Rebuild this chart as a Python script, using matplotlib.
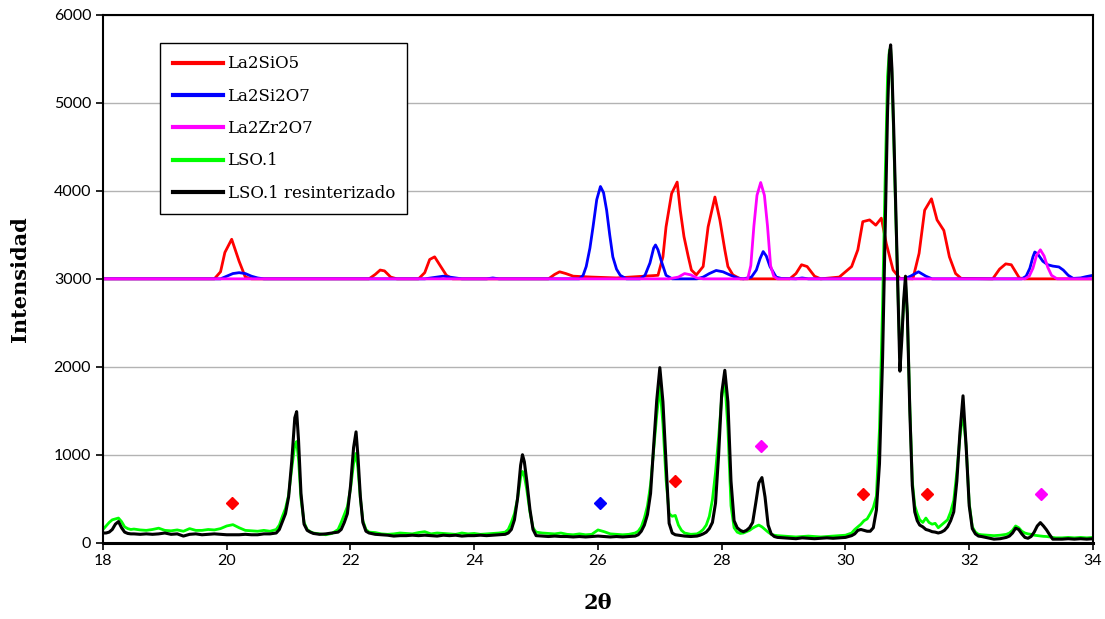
import matplotlib
matplotlib.use("Agg")
import matplotlib.pyplot as plt

# measured scans (shared 2-theta grid)
theta = [
    18.00, 18.05, 18.10, 18.15, 18.20, 18.25, 18.30, 18.35, 18.40, 18.45, 18.50,
    18.6, 18.7, 18.8, 18.9, 19.0, 19.1, 19.2, 19.3, 19.4, 19.5, 19.6, 19.7, 19.8,
    19.9, 20.0, 20.1, 20.2, 20.3, 20.4, 20.5, 20.6, 20.7, 20.8,
    20.85, 20.90, 20.95, 21.00, 21.05, 21.10, 21.13, 21.16, 21.20, 21.25, 21.30, 21.35,
    21.4, 21.5, 21.6, 21.7, 21.8,
    21.85, 21.90, 21.95, 22.00, 22.05, 22.09, 22.12, 22.16, 22.20, 22.25, 22.30,
    22.4, 22.5, 22.6, 22.7, 22.8, 22.9, 23.0, 23.1, 23.2, 23.3, 23.4, 23.5, 23.6,
    23.7, 23.8, 23.9, 24.0, 24.1, 24.2, 24.3, 24.4, 24.5,
    24.55, 24.60, 24.65, 24.70, 24.75, 24.78, 24.81, 24.85, 24.90, 24.95, 25.00,
    25.1, 25.2, 25.3, 25.4, 25.5, 25.6, 25.7, 25.8, 25.9, 26.0, 26.1, 26.2, 26.3,
    26.4, 26.5, 26.6,
    26.65, 26.70, 26.75, 26.80, 26.85, 26.90, 26.95, 27.00, 27.05, 27.10, 27.15,
    27.20, 27.25, 27.30, 27.35, 27.40,
    27.5, 27.6, 27.65,
    27.70, 27.75, 27.80, 27.85, 27.90, 27.95, 28.00, 28.05, 28.10, 28.15, 28.20,
    28.25, 28.30, 28.35, 28.40, 28.45, 28.50, 28.55, 28.60, 28.65, 28.70, 28.75,
    28.80, 28.85,
    28.9, 29.0, 29.1, 29.2, 29.3, 29.4, 29.5, 29.6, 29.7, 29.8, 29.9, 30.0,
    30.10, 30.15, 30.20, 30.25, 30.30, 30.35, 30.40, 30.45, 30.50, 30.55, 30.60,
    30.64, 30.68, 30.71, 30.73, 30.75, 30.78, 30.81, 30.85, 30.88, 30.91, 30.94,
    30.97, 31.00, 31.04, 31.08, 31.12, 31.16, 31.20, 31.25, 31.30, 31.35, 31.40,
    31.45, 31.50, 31.55, 31.60, 31.65, 31.70, 31.75, 31.80, 31.85, 31.90, 31.95,
    32.00, 32.05, 32.10, 32.15,
    32.2, 32.3, 32.4, 32.5, 32.6, 32.65, 32.70, 32.75, 32.80, 32.85, 32.90, 32.95,
    33.00, 33.05, 33.10, 33.15, 33.20, 33.25, 33.30, 33.35, 33.4,
    33.5, 33.6, 33.7, 33.8, 33.9, 34.0,
]

lso1 = [
    150, 190, 230, 260, 270, 280, 240, 180, 160, 150, 155,
    145, 140, 150, 165, 140, 135, 145, 130, 160, 140, 140, 150, 145,
    160, 190, 205, 170, 140, 135, 130, 140, 130, 150,
    200, 300, 390, 540, 840, 1110, 1150, 950, 500, 230, 150, 125,
    110, 100, 90, 105, 150,
    230, 320, 410, 610, 900, 1015, 850, 500, 250, 150, 120,
    115, 100, 95, 100, 110, 105, 100, 115, 125, 100, 110, 105, 100,
    95, 110, 100, 105, 95, 100, 105, 110, 120,
    150, 230, 330, 500, 740, 810, 760, 600, 350, 170, 120,
    110, 105, 100, 110, 95, 90, 100, 90, 95, 145, 125, 100, 95,
    90, 95, 110,
    130, 180, 280, 420, 660, 1050, 1450, 1780, 1350, 720, 330,
    300, 310, 200, 140, 110,
    95, 100, 120,
    150, 200, 300, 490, 800, 1200, 1650, 1840, 1300, 420, 170,
    120, 105, 110, 125, 140, 165, 185, 200, 180, 150, 120,
    95, 85,
    80, 75, 70, 65, 70, 75, 70, 65, 70, 75, 80, 85,
    110, 150, 180, 210, 250, 270, 330, 400, 530, 1300, 2700,
    4100, 5300, 5600, 5620, 5350, 4600, 3800, 2800, 2100, 2350, 2700,
    2950, 2600, 1550, 700, 420, 330, 260, 230, 280, 230, 210,
    220, 170, 200, 230, 260, 350, 480, 800, 1200, 1480, 1100,
    450, 180, 120, 95,
    90, 85, 80, 85, 95, 110, 140, 190, 170, 130, 110, 100,
    95, 85, 80, 76, 72, 70, 65, 60, 55,
    55, 60, 55, 60, 55, 60,
]

lso1_resint = [
    110, 110, 120, 150, 210, 240, 170, 120, 105, 100, 100,
    95, 100, 95, 100, 110, 95, 100, 75, 95, 100, 90, 95, 100,
    95, 90, 90, 90, 95, 90, 90, 100, 100, 110,
    150, 240, 330, 520, 920, 1420, 1490, 1170, 560, 210, 140, 120,
    105, 95, 100, 110, 120,
    150, 230, 330, 640, 1080, 1260, 990, 520, 230, 130, 110,
    95, 90, 85, 75, 80, 80, 85, 80, 85, 80, 75, 85, 80,
    85, 75, 80, 80, 85, 80, 85, 90, 95,
    110, 150, 260, 500, 880, 1000, 920, 700, 380, 150, 80,
    75, 70, 75, 70, 70, 65, 70, 65, 70, 75, 70, 65, 70,
    65, 70, 75,
    90, 130, 200, 320, 560, 1100, 1620, 1990, 1600, 900, 220,
    110, 90, 85, 80, 75,
    70, 75, 85,
    100, 120, 160, 230, 450, 1000, 1700, 1960, 1600, 700, 250,
    170, 140, 125, 140, 170, 230, 450, 680, 740, 520, 200,
    100, 70,
    60, 55, 50, 45, 55, 50, 45, 50, 55, 50, 55, 60,
    80, 100, 140, 150, 140, 130, 130, 170, 370, 900, 2100,
    3500, 4900, 5550, 5660, 5400, 4700, 3900, 2800, 1950, 2300, 2750,
    3030, 2600, 1500, 650, 350, 250, 200, 180, 150, 140, 125,
    120, 110, 120, 140, 180, 250, 350, 700, 1250, 1670, 1100,
    420, 160, 100, 75,
    70, 55, 40, 45, 60, 75, 110, 165, 150, 100, 60, 50,
    70, 120, 190, 228, 190, 145, 90, 40, 40,
    40, 45, 40, 45, 40, 45,
]

# reference patterns, offset to 3000
la2sio5_x = [18.0, 19.8, 19.9, 19.97, 20.08, 20.2, 20.3, 20.4, 22.3, 22.4, 22.48,
             22.55, 22.65, 22.75, 23.1, 23.2, 23.28, 23.36, 23.45, 23.55, 23.65,
             25.2, 25.3, 25.38, 25.48, 25.6, 25.9, 26.3, 26.97, 27.05, 27.1, 27.19,
             27.28, 27.33, 27.39, 27.46, 27.51, 27.59, 27.7, 27.78, 27.89, 27.97,
             28.05, 28.1, 28.18, 28.3, 29.1, 29.2, 29.29, 29.38, 29.5, 29.6, 29.9,
             30.1, 30.2, 30.28, 30.39, 30.49, 30.58, 30.66, 30.77, 30.88, 31.09,
             31.19, 31.28, 31.39, 31.48, 31.59, 31.68, 31.78, 31.87, 32.38, 32.49,
             32.59, 32.68, 32.81, 32.9, 34.0]
la2sio5_y = [3000, 3000, 3080, 3300, 3450, 3200, 3020, 3000, 3000, 3050, 3100,
             3090, 3020, 3000, 3000, 3070, 3220, 3250, 3150, 3040, 3000,
             3000, 3050, 3080, 3060, 3030, 3020, 3010, 3040, 3250, 3590, 3970,
             4100, 3780, 3480, 3250, 3100, 3045, 3140, 3590, 3930, 3670,
             3330, 3140, 3045, 3000, 3000, 3060, 3160, 3140, 3030, 3000, 3020,
             3140, 3330, 3650, 3670, 3610, 3690, 3400, 3100, 3005, 3000,
             3290, 3780, 3910, 3670, 3550, 3250, 3060, 3005, 3000, 3110,
             3170, 3160, 3010, 3000, 3000]

la2si2o7_x = [18.0, 19.9, 20.0, 20.1, 20.2, 20.3, 20.4, 20.5, 20.6, 23.2, 23.35,
              23.5, 23.65, 23.8, 24.2, 24.3, 24.4, 25.7, 25.76, 25.81, 25.87,
              25.92, 25.98, 26.04, 26.09, 26.14, 26.19, 26.24, 26.3, 26.36, 26.46,
              26.68, 26.76, 26.84, 26.9, 26.93, 26.97, 27.02, 27.1, 27.2, 27.6,
              27.7, 27.8, 27.91, 28.02, 28.13, 28.25, 28.35, 28.48, 28.56, 28.62,
              28.67, 28.72, 28.78, 28.88, 28.96, 29.2, 29.3, 29.4, 30.95, 31.05,
              31.18, 31.3, 31.4, 32.85, 32.92, 32.98, 33.03, 33.06, 33.11, 33.19,
              33.27, 33.35, 33.45, 33.52, 33.6, 33.68, 33.8, 33.89, 34.0]
la2si2o7_y = [3000, 3000, 3030, 3060, 3070, 3060, 3030, 3010, 3000, 3000, 3015,
              3030, 3015, 3000, 3000, 3010, 3000, 3000, 3040, 3140, 3350,
              3590, 3900, 4050, 3980, 3780, 3500, 3250, 3110, 3040, 3000,
              3000, 3040, 3180, 3350, 3385, 3330, 3210, 3040, 3000, 3000,
              3020, 3060, 3095, 3080, 3045, 3010, 3000, 3020, 3100, 3230,
              3310, 3260, 3140, 3020, 3005, 3000, 3010, 3000, 3000, 3030,
              3080, 3030, 3000, 3000, 3030, 3120, 3250, 3305, 3280, 3200,
              3160, 3145, 3135, 3100, 3040, 3005, 3010, 3025, 3040]

la2zr2o7_x = [18.0, 27.15, 27.3, 27.4, 27.5, 27.6, 27.7, 28.42, 28.47, 28.52,
              28.57, 28.63, 28.69, 28.74, 28.79, 28.84, 28.9, 32.9, 32.97, 33.03,
              33.09, 33.15, 33.21, 33.27, 33.33, 33.42, 34.0]
la2zr2o7_y = [3000, 3000, 3020, 3060, 3045, 3010, 3000, 3000, 3150, 3600,
              3950, 4095, 3950, 3600, 3150, 3030, 3000, 3000, 3030, 3120,
              3270, 3330, 3260, 3130, 3040, 3000, 3000]

# phase markers
mark_la2sio5_x = [20.08, 27.24, 30.28, 31.32]
mark_la2sio5_y = [450, 700, 550, 550]
mark_la2si2o7_x = [26.03]
mark_la2si2o7_y = [450]
mark_la2zr2o7_x = [28.64, 33.16]
mark_la2zr2o7_y = [1100, 550]

fig = plt.figure(figsize=(11.05, 6.19), dpi=100)
ax = fig.add_axes([0.0932, 0.1233, 0.8959, 0.8525])

ax.plot(la2sio5_x, la2sio5_y, color='#ff0000', lw=2.0, label='La2SiO5')
ax.plot(la2si2o7_x, la2si2o7_y, color='#0000ff', lw=2.0, label='La2Si2O7')
ax.plot(la2zr2o7_x, la2zr2o7_y, color='#ff00ff', lw=2.0, label='La2Zr2O7')
ax.plot(theta, lso1, color='#00ff00', lw=2.0, label='LSO.1')
ax.plot(theta, lso1_resint, color='#000000', lw=2.2, label='LSO.1 resinterizado')

ax.plot(mark_la2sio5_x, mark_la2sio5_y, 'D', color='#ff0000', ms=6, ls='None')
ax.plot(mark_la2si2o7_x, mark_la2si2o7_y, 'D', color='#0000ff', ms=6, ls='None')
ax.plot(mark_la2zr2o7_x, mark_la2zr2o7_y, 'D', color='#ff00ff', ms=6, ls='None')

ax.set_xlim(18, 34)
ax.set_ylim(0, 6000)
ax.set_xticks(range(18, 35, 2))
ax.set_yticks(range(0, 6001, 1000))
ax.yaxis.grid(True, color='#b3b3b3', lw=1)
ax.set_axisbelow(True)

for s in ax.spines.values():
    s.set_linewidth(1.5)
ax.spines['bottom'].set_linewidth(2.2)
ax.tick_params(direction='out', length=5, width=1.2, labelsize=11.5)
for lab in ax.get_xticklabels() + ax.get_yticklabels():
    lab.set_family('Lato')

ax.set_xlabel('2θ', family='DejaVu Serif', fontweight='bold', fontsize=15, labelpad=18)
ax.set_ylabel('Intensidad', family='DejaVu Serif', fontweight='bold', fontsize=15, labelpad=17)

leg = ax.legend(loc='upper left', bbox_to_anchor=(0.0576, 0.947), borderaxespad=0,
                prop={'family': 'DejaVu Serif', 'size': 12}, fancybox=False,
                framealpha=1, edgecolor='black', handlelength=3.0, handletextpad=0.3,
                labelspacing=0.92, borderpad=0.75)
leg.get_frame().set_linewidth(1.0)
for h in leg.get_lines():
    h.set_linewidth(3)

fig.savefig('out.png', dpi=100)
